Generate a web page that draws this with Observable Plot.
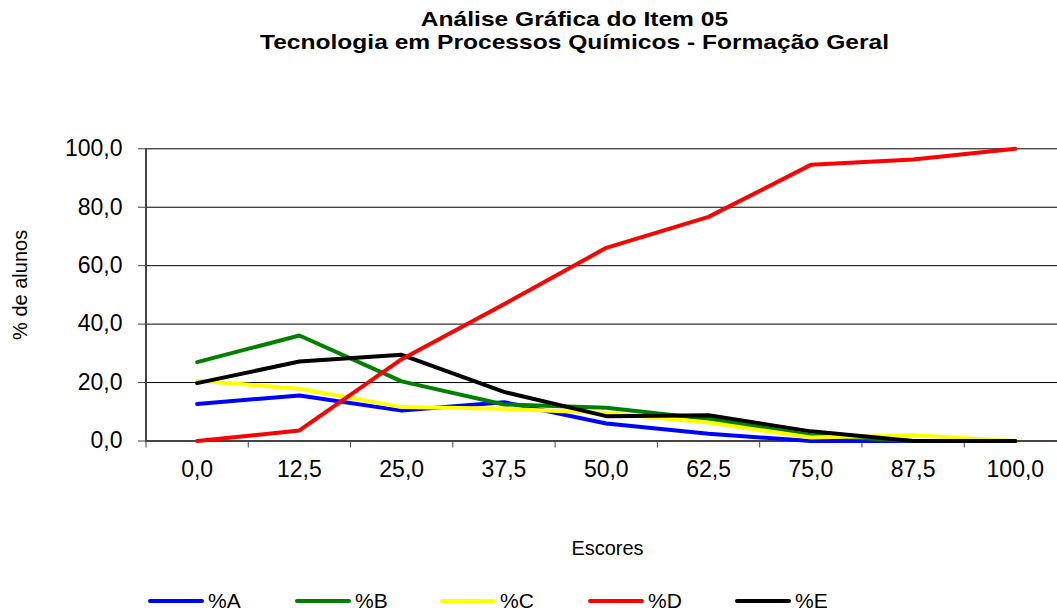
<!DOCTYPE html>
<html><head><meta charset="utf-8">
<script src="https://cdn.jsdelivr.net/npm/d3@7"></script>
<script src="https://cdn.jsdelivr.net/npm/@observablehq/plot@0.6"></script>
<style>
body{margin:0;background:#fff;font-family:"Liberation Sans",Arial,sans-serif;}
#wrap{position:relative;width:1057px;height:612px;overflow:hidden;background:#fff;}
#title{position:absolute;top:7px;left:92px;width:965px;text-align:center;font-weight:bold;font-size:21px;line-height:23px;color:#000;transform:scaleX(1.17);}
#chart{position:absolute;top:70px;left:0;}
#legend{position:absolute;top:591px;left:0;height:20px;width:1057px;}
.item{position:absolute;top:0;height:20px;display:flex;align-items:center;font-size:21px;line-height:20px;color:#000;}
.sw{width:56px;height:4px;border-radius:2px;margin-right:4px;}
</style></head>
<body>
<div id="wrap">
  <div id="title">Análise Gráfica do Item 05<br>Tecnologia em Processos Químicos - Formação Geral</div>
  <div id="chart"></div>
  <div id="legend"></div>
</div>
<script>
const categories = ["0,0","12,5","25,0","37,5","50,0","62,5","75,0","87,5","100,0"];
const seriesNames = ["%A","%B","%C","%D","%E"];
const seriesColors = ["#0000ff","#008000","#ffff00","#ff0000","#000000"];
const valuesA = [12.7, 15.6, 10.4, 13.3, 6.0, 2.5, 0.0, 0.0, 0.0];
const valuesB = [27.0, 36.1, 20.4, 12.5, 11.4, 7.5, 2.0, 0.0, 0.0];
const valuesC = [20.6, 17.9, 11.6, 11.0, 9.6, 6.3, 1.2, 2.0, 0.0];
const valuesD = [0.0, 3.6, 28.0, 46.8, 66.1, 76.7, 94.5, 96.3, 100.0];
const valuesE = [19.8, 27.2, 29.5, 16.8, 8.5, 8.8, 3.3, 0.0, 0.0];
const yTicks = [0, 20, 40, 60, 80, 100];
const yLabel = "% de alunos";
const xLabel = "Escores";

const allValues = [valuesA, valuesB, valuesC, valuesD, valuesE];
const drawOrder = [0, 1, 2, 4, 3];
const data = [];
drawOrder.forEach(s => {
  allValues[s].forEach((v, i) => data.push({i, series: seriesNames[s], value: v}));
});
const idx = categories.map((c, i) => i);
const bounds = categories.map((c, i) => i - 0.5).concat([categories.length - 0.5]);
const fmt = d => d.toFixed(1).replace(".", ",");

const chart = Plot.plot({
  width: 1057,
  height: 500,
  marginLeft: 145,
  marginRight: 0,
  marginTop: 78.3,
  marginBottom: 129.5,
  x: {type: "linear", domain: [-0.5, categories.length - 0.5], range: [145.5, 1066]},
  y: {domain: [0, 100]},
  color: {domain: seriesNames, range: seriesColors},
  style: {fontFamily: "'Liberation Sans', Arial, sans-serif", fontSize: "23px", color: "#000", background: "#fff", overflow: "visible"},
  marks: [
    Plot.ruleY(yTicks.slice(1), {stroke: "#000", strokeWidth: 1, strokeOpacity: 1}),
    Plot.axisY(yTicks, {tickFormat: fmt, tickSize: 7, tickPadding: 16, label: null, fontSize: 23, stroke: "#444"}),
    Plot.axisX(idx, {tickFormat: i => categories[i], tickSize: 0, tickPadding: 20, label: null, fontSize: 23}),
    Plot.axisX(bounds, {tickFormat: () => "", tickSize: 7, label: null, stroke: "#444"}),
    Plot.ruleX([-0.5], {stroke: "#444", strokeWidth: 2}),
    Plot.ruleY([0], {stroke: "#444", strokeWidth: 2}),
    Plot.line(data, {x: "i", y: "value", z: "series", stroke: "series", strokeWidth: 4, strokeLinejoin: "round"}),
    Plot.text([yLabel], {frameAnchor: "left", textAnchor: "middle", rotate: -90, dx: -125, dy: -10, fontSize: 20}),
    Plot.text([xLabel], {frameAnchor: "bottom", textAnchor: "middle", dx: 6, dy: 114, fontSize: 20})
  ]
});
document.getElementById("chart").appendChild(chart);

const legendX = [148, 295, 440, 588, 735];
const legend = document.getElementById("legend");
seriesNames.forEach((name, k) => {
  const item = document.createElement("div");
  item.className = "item";
  item.style.left = legendX[k] + "px";
  item.innerHTML = `<span class="sw" style="background:${seriesColors[k]}"></span><span>${name}</span>`;
  legend.appendChild(item);
});
</script>
</body></html>
